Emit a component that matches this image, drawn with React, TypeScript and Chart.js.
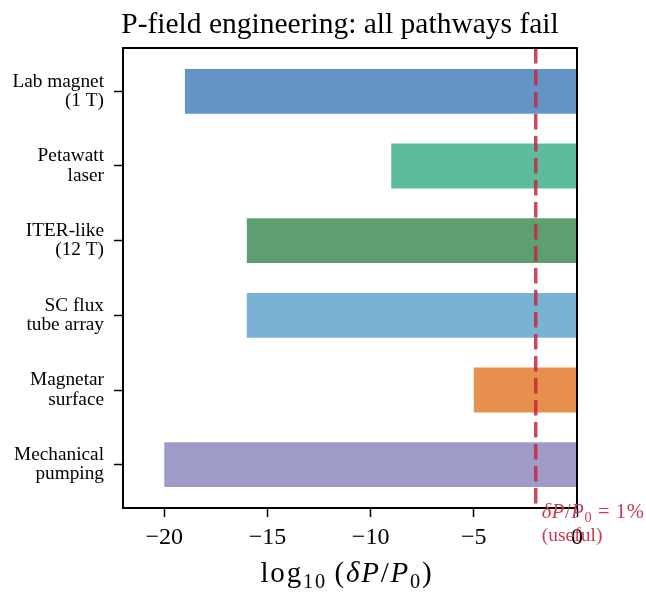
import React, { useEffect, useRef } from 'react';
import { Chart, registerables } from 'chart.js';

Chart.register(...registerables);

const chartTitle = 'P-field engineering: all pathways fail';
const categories: string[][] = [
  ['Lab magnet', '(1 T)'],
  ['Petawatt', 'laser'],
  ['ITER-like', '(12 T)'],
  ['SC flux', 'tube array'],
  ['Magnetar', 'surface'],
  ['Mechanical', 'pumping'],
];
const values: number[] = [-19, -9, -16, -16, -5, -20];
const barColors: string[] = ['#6394c6', '#5ebb9d', '#5e9f70', '#7ab2d5', '#e78f4c', '#9f9bc8'];
const xTicks: number[] = [-20, -15, -10, -5, 0];
const xMin = -22;
const xMax = 0;
const threshold = -2;
const thresholdNote = '(useful)';

const SERIF = '"Liberation Serif", "Times New Roman", serif';

type Seg = { t: string; it?: boolean; sub?: boolean };

function drawRich(
  ctx: CanvasRenderingContext2D,
  segs: Seg[],
  x: number,
  y: number,
  size: number,
  align: 'left' | 'center',
  spacing: number
) {
  const fontFor = (s: Seg) => `${s.it ? 'italic ' : ''}${s.sub ? size * 0.7 : size}px ${SERIF}`;
  (ctx as any).letterSpacing = spacing + 'px';
  const widths = segs.map((s) => {
    ctx.font = fontFor(s);
    return ctx.measureText(s.t).width;
  });
  const total = widths.reduce((a, b) => a + b, 0);
  let cx = align === 'center' ? x - total / 2 : x;
  ctx.textAlign = 'left';
  ctx.textBaseline = 'alphabetic';
  segs.forEach((s, i) => {
    ctx.font = fontFor(s);
    ctx.fillText(s.t, cx, y + (s.sub ? size * 0.2 : 0));
    cx += widths[i];
  });
  (ctx as any).letterSpacing = '0px';
}

const axisLabel: Seg[] = [
  { t: 'log' },
  { t: '10', sub: true },
  { t: '\u2009(' },
  { t: 'δP', it: true },
  { t: '/' },
  { t: 'P', it: true },
  { t: '0', sub: true },
  { t: ')' },
];
const thresholdLabel: Seg[] = [
  { t: 'δP', it: true },
  { t: '/' },
  { t: 'P', it: true },
  { t: '0', sub: true },
  { t: '\u2005=\u20051%' },
];

const overlay = {
  id: 'overlay',
  afterDatasetsDraw(chart: any) {
    const { ctx, chartArea: a, scales } = chart;
    const xp = scales.x.getPixelForValue(threshold);
    ctx.save();
    ctx.strokeStyle = 'rgba(196,40,66,0.85)';
    ctx.lineWidth = 3.5;
    ctx.setLineDash([15.5, 6.5]);
    ctx.beginPath();
    ctx.moveTo(xp, a.top);
    ctx.lineTo(xp, a.bottom);
    ctx.stroke();
    ctx.setLineDash([]);
    ctx.strokeStyle = '#000';
    ctx.lineWidth = 2;
    ctx.strokeRect(a.left, a.top, a.right - a.left, a.bottom - a.top);

    ctx.fillStyle = '#cc3a52';
    drawRich(ctx, thresholdLabel, xp + 6, a.bottom + 10, 20.5, 'left', 0.6);
    ctx.font = `19.5px ${SERIF}`;
    ctx.textAlign = 'left';
    ctx.fillText(thresholdNote, xp + 6, a.bottom + 33);

    ctx.fillStyle = '#000';
    drawRich(ctx, axisLabel, (a.left + a.right) / 2 - 3, chart.height - 11, 29, 'center', 1.8);

    ctx.font = `29.5px ${SERIF}`;
    ctx.textAlign = 'center';
    ctx.textBaseline = 'alphabetic';
    ctx.fillText(chartTitle, (a.left + a.right) / 2 - 10, a.top - 15);
    ctx.restore();
  },
};

export default function App() {
  const ref = useRef<HTMLCanvasElement | null>(null);
  useEffect(() => {
    document.body.style.margin = '0';
    if (!ref.current) return;
    const chart = new Chart(ref.current, {
      type: 'bar',
      data: {
        datasets: [
          {
            data: values.map((v, i) => ({ x: v, y: i })) as any,
            backgroundColor: barColors,
            borderWidth: 0,
            categoryPercentage: 0.6,
            barPercentage: 1,
          },
        ],
      },
      options: {
        indexAxis: 'y',
        animation: false,
        responsive: false,
        layout: { padding: { left: 0, right: 69, top: 48, bottom: 0 } },
        plugins: { legend: { display: false }, title: { display: false }, tooltip: { enabled: false } },
        scales: {
          x: {
            type: 'linear',
            min: xMin,
            max: xMax,
            offset: false,
            afterBuildTicks: (s: any) => {
              s.ticks = xTicks.map((v) => ({ value: v }));
            },
            afterFit: (s: any) => {
              s.height = 85;
            },
            grid: { offset: false, drawOnChartArea: false, drawTicks: true, tickLength: 9, color: '#000', tickWidth: 1.5 },
            border: { display: false },
            ticks: {
              color: '#000',
              padding: 6,
              font: { family: SERIF, size: 24 },
              callback: (v: any) => (Number(v) < 0 ? '\u2212' + Math.abs(Number(v)) : String(v)),
            },
          },
          y: {
            type: 'linear',
            reverse: true,
            min: -0.58,
            max: 5.58,
            offset: false,
            afterBuildTicks: (s: any) => {
              s.ticks = categories.map((_, i) => ({ value: i }));
            },
            afterFit: (s: any) => {
              s.width = 123;
            },
            grid: { offset: false, drawOnChartArea: false, drawTicks: true, tickLength: 9, color: '#000', tickWidth: 1.5 },
            border: { display: false },
            ticks: {
              color: '#000',
              padding: 10,
              font: { family: SERIF, size: 19.3, lineHeight: 1.0 },
              callback: (v: any) => categories[Math.round(Number(v))] ?? '',
            },
          },
        },
      },
      plugins: [overlay],
    } as any);
    return () => chart.destroy();
  }, []);
  return (
    <div style={{ width: 646, height: 593 }}>
      <canvas ref={ref} width={646} height={593} />
    </div>
  );
}
